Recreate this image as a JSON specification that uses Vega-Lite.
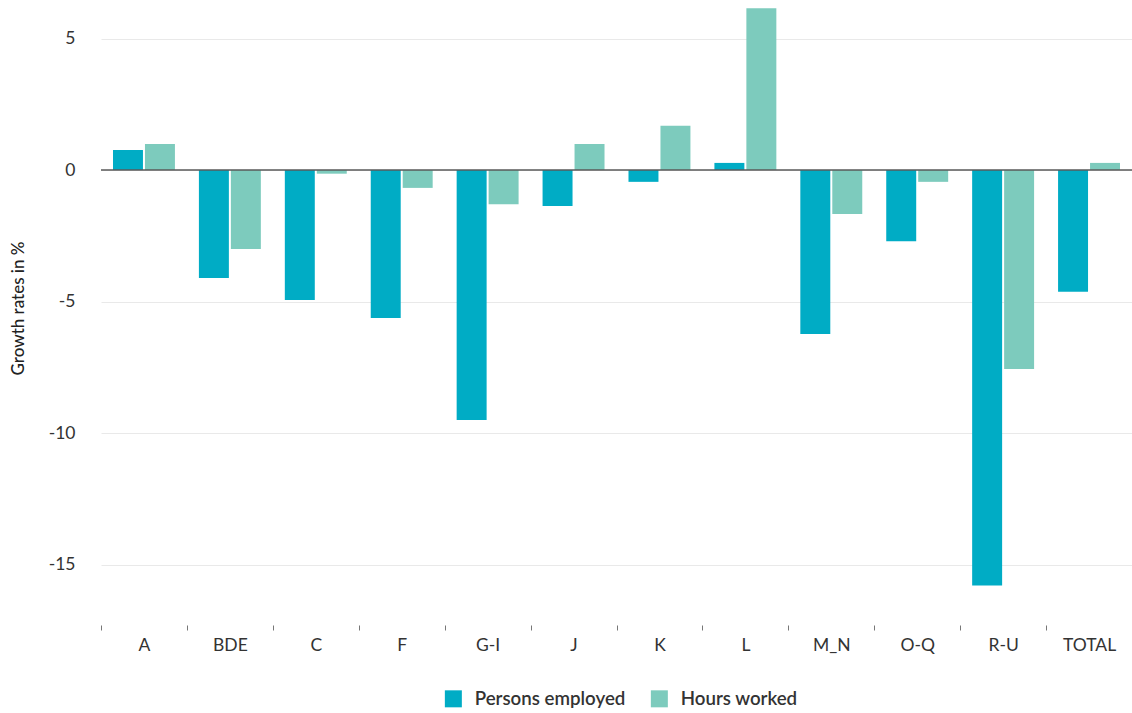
{
  "$schema": "https://vega.github.io/schema/vega-lite/v6.json",
  "width": 1031,
  "height": 617,
  "autosize": {"type": "none"},
  "padding": {"left": 101, "top": 8, "right": 0, "bottom": 88},
  "background": "white",
  "config": {"view": {"stroke": null}, "font": "Lato"},
  "data": {
    "values": [
      {"sector": "A", "measure": "Persons employed", "value": 0.76},
      {"sector": "A", "measure": "Hours worked", "value": 0.99},
      {"sector": "BDE", "measure": "Persons employed", "value": -4.11},
      {"sector": "BDE", "measure": "Hours worked", "value": -3.0},
      {"sector": "C", "measure": "Persons employed", "value": -4.94},
      {"sector": "C", "measure": "Hours worked", "value": -0.14},
      {"sector": "F", "measure": "Persons employed", "value": -5.63},
      {"sector": "F", "measure": "Hours worked", "value": -0.68},
      {"sector": "G-I", "measure": "Persons employed", "value": -9.51},
      {"sector": "G-I", "measure": "Hours worked", "value": -1.3},
      {"sector": "J", "measure": "Persons employed", "value": -1.37},
      {"sector": "J", "measure": "Hours worked", "value": 0.99},
      {"sector": "K", "measure": "Persons employed", "value": -0.45},
      {"sector": "K", "measure": "Hours worked", "value": 1.68},
      {"sector": "L", "measure": "Persons employed", "value": 0.27},
      {"sector": "L", "measure": "Hours worked", "value": 6.15},
      {"sector": "M_N", "measure": "Persons employed", "value": -6.24},
      {"sector": "M_N", "measure": "Hours worked", "value": -1.67},
      {"sector": "O-Q", "measure": "Persons employed", "value": -2.71},
      {"sector": "O-Q", "measure": "Hours worked", "value": -0.45},
      {"sector": "R-U", "measure": "Persons employed", "value": -15.8},
      {"sector": "R-U", "measure": "Hours worked", "value": -7.57},
      {"sector": "TOTAL", "measure": "Persons employed", "value": -4.63},
      {"sector": "TOTAL", "measure": "Hours worked", "value": 0.27}
    ]
  },
  "layer": [
    {
      "mark": {"type": "bar"},
      "encoding": {
        "x": {
          "field": "sector",
          "type": "nominal",
          "sort": null,
          "scale": {"paddingInner": 0, "paddingOuter": 0},
          "axis": {
            "title": null,
            "tickBand": "extent",
            "domain": false,
            "grid": false,
            "tickSize": 5,
            "tickColor": "#777777",
            "labelPadding": 6,
            "labelFontSize": 17.5,
            "labelColor": "#333333",
            "labelAngle": 0
          }
        },
        "xOffset": {
          "field": "measure",
          "sort": ["Persons employed", "Hours worked"],
          "scale": {"paddingInner": 0.0625, "paddingOuter": 0.375}
        },
        "y": {
          "field": "value",
          "type": "quantitative",
          "scale": {"domain": [-17.3, 6.16], "nice": false, "zero": false},
          "axis": {
            "title": "Growth rates in %",
            "values": [-15, -10, -5, 0, 5],
            "labelExpr": "'' + datum.value",
            "grid": true,
            "gridColor": "#e9e9e9",
            "domain": false,
            "ticks": false,
            "labelPadding": 26,
            "labelFontSize": 17.5,
            "labelColor": "#333333",
            "titleFontSize": 17,
            "titleColor": "#222222",
            "titleFontWeight": 500,
            "titleX": -83,
            "titleY": 300,
            "titleAngle": -90,
            "titleAlign": "center",
            "titleBaseline": "middle"
          }
        },
        "color": {
          "field": "measure",
          "type": "nominal",
          "sort": ["Persons employed", "Hours worked"],
          "scale": {"domain": ["Persons employed", "Hours worked"], "range": ["#00acc5", "#7dcbbd"]},
          "legend": {
            "title": null,
            "orient": "none",
            "legendX": 343,
            "legendY": 681,
            "direction": "horizontal",
            "padding": 0,
            "symbolType": "square",
            "symbolSize": 289,
            "symbolStrokeWidth": 0,
            "labelFontSize": 18.7,
            "labelFontWeight": 600,
            "labelColor": "#333333",
            "labelOffset": 12,
            "columnPadding": 24
          }
        }
      }
    },
    {
      "data": {"values": [{}]},
      "mark": {"type": "rule", "color": "#5a5a5a", "strokeWidth": 1.5},
      "encoding": {"y": {"datum": 0}}
    }
  ]
}
